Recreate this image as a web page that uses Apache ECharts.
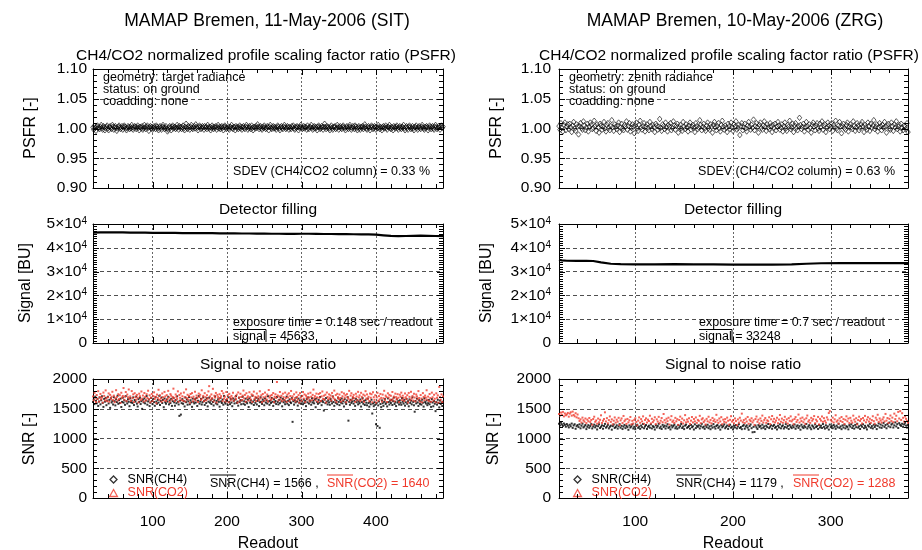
<!DOCTYPE html>
<html><head><meta charset="utf-8">
<script src="https://cdn.jsdelivr.net/npm/echarts@6/dist/echarts.min.js"></script>
<style>html,body{margin:0;padding:0;background:#fff}#c{width:922px;height:550px}</style>
</head><body><div id="c"></div>
<script>
// ---------------- DATA ----------------
const readoutStartL = 20;   // first readout, left column (11-May-2006, SIT)
const readoutStartR = 22;   // first readout, right column (10-May-2006, ZRG)
const readoutEndL = 490, readoutEndR = 379;

const psfrL = [
1.002,0.998,1.004,1.001,0.996,1.003,1.005,1.000,1.002,0.999,
1.003,1.006,1.001,0.998,1.004,1.002,0.997,1.001,1.003,1.005,
1.000,0.997,1.002,1.004,1.001,0.999,1.006,1.003,0.998,1.002,
1.004,1.001,0.996,1.000,1.003,1.005,1.002,0.999,1.001,1.004,
0.998,1.002,1.005,1.003,1.000,0.997,1.001,1.004,1.002,0.999,
1.003,1.000,1.006,1.002,0.998,1.001,1.004,1.003,0.999,1.002,
1.005,1.001,0.997,1.003,1.002,1.000,1.004,0.998,1.001,1.006,
1.002,0.999,1.003,1.005,1.001,0.996,1.002,1.004,1.000,1.003,
0.998,1.001,1.004,1.002,0.999,1.005,1.003,1.000,0.997,1.002,
1.004,1.001,0.998,1.003,1.006,1.002,0.999,1.001,1.004,1.000,
0.995,0.998,1.002,1.004,1.001,0.997,1.003,1.005,1.000,1.002,
1.003,0.999,1.001,1.006,1.002,0.998,1.004,1.001,1.003,0.999,
1.002,1.005,1.000,0.997,1.003,1.008,1.001,0.999,1.004,1.002,
0.998,1.003,1.006,1.001,0.999,1.002,1.004,1.000,1.007,1.003,
1.001,0.997,1.002,1.005,1.003,0.999,1.001,1.004,1.002,0.998,
1.004,1.001,1.003,0.999,1.006,1.002,1.000,1.003,0.997,1.001,
1.005,1.002,0.999,1.003,1.001,1.004,0.998,1.002,1.006,1.000,
1.003,0.999,1.002,1.004,1.001,0.997,1.003,1.005,1.002,0.999,
1.001,1.004,1.000,0.998,1.003,1.002,1.006,1.001,0.999,1.003,
1.002,0.997,1.004,1.001,1.003,0.999,1.002,1.005,1.000,1.003,
0.998,1.002,1.004,1.001,0.999,1.003,1.006,1.002,0.998,1.001,
1.004,1.002,0.999,1.005,1.001,0.997,1.003,1.002,1.000,1.004,
1.001,1.007,1.003,0.999,1.002,1.004,1.000,0.998,1.003,1.001,
1.005,1.002,0.999,1.001,1.004,1.002,0.997,1.003,1.006,1.001,
0.999,1.002,1.004,1.000,1.003,1.001,0.998,1.002,1.005,1.003,
1.000,0.997,1.002,1.004,1.001,0.999,1.003,1.006,1.002,0.999,
1.001,1.004,1.002,0.998,1.003,1.001,0.999,1.004,1.002,1.005,
1.000,0.998,1.003,1.001,1.004,1.002,0.997,1.001,1.003,1.006,
1.002,0.999,1.001,1.004,1.000,1.003,1.002,0.998,1.005,1.001,
0.999,1.003,1.002,1.006,1.001,0.998,1.002,1.004,1.000,1.003,
1.001,0.997,1.003,1.005,1.002,0.999,1.001,1.004,1.002,0.998,
1.003,1.008,1.002,0.999,1.004,1.001,1.003,1.000,0.997,1.002,
1.005,1.001,0.998,1.003,1.002,1.004,0.999,1.001,1.006,1.002,
0.998,1.002,1.004,1.001,0.999,1.003,1.005,1.002,1.000,0.997,
1.002,1.004,1.001,0.999,1.003,1.006,1.002,0.998,1.001,1.004,
1.002,0.999,1.005,1.003,1.000,0.997,1.002,1.004,1.001,0.998,
1.003,1.001,1.004,0.999,1.002,1.007,1.003,1.000,0.998,1.002,
1.004,1.001,0.997,1.002,1.005,1.003,0.999,1.001,1.004,1.002,
0.998,1.003,1.001,1.006,1.002,0.999,1.003,1.001,0.997,1.002,
1.004,1.000,1.002,1.005,1.001,0.998,1.003,1.002,1.006,1.001,
0.999,1.003,1.001,0.997,1.004,1.002,1.000,1.003,1.005,1.001,
0.998,1.002,1.004,1.001,0.999,1.003,1.002,1.006,1.000,0.997,
1.002,1.004,1.001,0.998,1.003,1.005,1.002,0.999,1.001,1.004,
1.000,0.997,1.003,1.002,1.005,1.001,0.998,1.002,1.004,1.001,
0.999,1.003,1.006,1.002,1.000,0.998,1.003,1.001,1.004,1.002,
0.997,1.001,1.005,1.003,0.999,1.002,1.004,1.000,0.998,1.003,
1.006,1.002,0.999,1.001,1.004,1.002,0.998,1.003,1.005,1.001,
1.003];

const psfrR = [
1.004,0.998,1.009,1.001,0.995,1.006,1.010,0.997,1.003,1.007,
0.999,1.008,1.002,0.994,1.005,1.011,1.000,0.996,1.007,1.003,
0.990,1.004,1.009,1.001,0.998,1.012,1.005,0.997,1.002,1.008,
0.995,1.003,1.010,1.006,0.999,1.001,1.013,1.004,0.996,1.007,
1.002,0.993,1.008,1.005,0.998,1.003,1.011,1.000,0.995,1.006,
1.009,1.001,0.997,1.004,1.014,1.002,0.996,1.007,1.003,0.999,
1.005,1.010,0.994,1.002,1.008,1.000,0.997,1.006,1.003,1.012,
0.998,1.004,1.009,0.995,1.001,1.007,1.003,0.992,1.005,1.010,
1.000,0.996,1.006,1.013,1.002,0.998,1.004,1.009,0.995,1.003,
1.007,1.001,0.997,1.011,1.004,0.999,1.006,1.002,0.994,1.008,
1.005,0.998,1.003,1.016,1.001,0.996,1.007,1.004,0.999,1.010,
1.002,0.995,1.006,1.003,1.009,0.997,1.001,1.012,1.005,0.998,
1.004,1.008,0.993,1.002,1.006,1.000,0.996,1.011,1.003,0.999,
1.007,1.002,0.995,1.005,1.010,0.998,1.003,1.006,1.001,0.994,
1.009,1.004,0.999,1.002,1.014,1.006,0.997,1.003,1.008,1.000,
0.996,1.005,1.010,1.001,0.998,1.007,1.003,0.993,1.006,1.011,
1.002,0.997,1.004,1.009,1.000,0.995,1.006,1.013,1.003,0.998,
1.005,1.001,0.994,1.008,1.004,0.999,1.010,1.002,0.996,1.007,
1.003,1.012,0.998,1.001,1.006,0.989,1.004,1.009,0.997,1.002,
1.008,1.000,0.995,1.005,1.011,1.003,0.998,1.006,1.001,1.015,
0.997,1.004,1.009,1.002,0.993,1.006,1.010,1.001,0.998,1.005,
1.012,1.003,0.996,1.007,1.002,0.999,1.009,1.004,0.994,1.006,
1.001,1.008,0.997,1.003,1.011,1.005,0.998,1.002,1.007,0.995,
1.004,1.010,1.000,0.996,1.006,1.003,1.013,0.999,1.002,1.008,
0.994,1.005,1.009,1.001,0.997,1.004,1.018,1.006,0.999,1.003,
1.008,0.995,1.002,1.011,1.004,0.998,1.007,1.001,0.993,1.006,
1.010,1.003,0.997,1.005,1.009,1.000,0.996,1.008,1.002,1.012,
0.998,1.004,1.007,0.994,1.001,1.010,1.005,0.999,1.003,1.009,
0.996,1.006,1.002,1.013,1.000,0.997,1.005,1.011,1.003,0.992,
1.004,1.008,1.001,0.998,1.006,1.010,0.995,1.003,1.007,1.002,
0.999,1.012,1.004,0.996,1.002,1.009,1.005,0.997,1.001,1.007,
1.011,1.003,0.994,1.006,1.002,0.998,1.010,1.004,0.996,1.008,
1.001,1.005,1.014,0.999,1.003,1.007,0.995,1.002,1.009,1.004,
0.997,1.006,1.001,1.011,1.003,0.993,1.005,1.008,1.000,0.998,
1.010,1.004,0.996,1.007,1.002,1.012,0.999,1.003,1.006,0.995,
1.008,1.001,0.997,1.005,1.003,0.999,1.009,0.994];

// Detector filling (signal, BU) sampled along readouts
const signalLx = [20,30,40,50,60,70,80,90,100,110,120,130,140,150,160,170,180,190,200,210,220,230,240,250,260,270,280,290,300,310,320,330,340,350,360,370,380,390,400,410,420,430,440,450,460,470,480,490];
const signalLy = [46400,46450,46450,46500,46450,46400,46350,46350,46300,46300,46250,46250,46200,46200,46150,46150,46150,46100,46100,46050,46000,46000,45950,45950,45900,45900,45850,45850,45900,45900,45850,45800,45800,45750,45750,45700,45650,45600,45500,45250,45000,44900,44950,45050,45100,45050,44950,44900];
const signalRx = [22,25,30,40,50,57,65,75,85,100,120,140,160,180,200,220,240,260,275,290,310,330,350,370,379];
const signalRy = [35000,34700,34550,34500,34500,34450,33900,33300,33100,33050,33050,33100,33050,33000,32950,32900,32950,33050,33300,33500,33550,33600,33600,33550,33550];

const snrCH4L = [
1612,1655,1578,1703,1634,1590,1668,1547,1621,1689,
1574,1642,1710,1598,1531,1665,1619,1683,1560,1637,
1702,1589,1648,1515,1676,1605,1633,1571,1694,1627,
1556,1660,1612,1719,1583,1644,1597,1670,1529,1615,
1686,1603,1641,1566,1712,1625,1588,1659,1617,1543,
1678,1609,1634,1596,1691,1562,1647,1620,1705,1585,
1538,1661,1614,1685,1579,1627,1498,1652,1606,1673,
1591,1638,1714,1568,1623,1657,1545,1601,1682,1630,
1577,1666,1612,1549,1695,1620,1584,1649,1603,1718,
1563,1631,1688,1597,1645,1526,1672,1610,1584,1656,
1619,1701,1573,1640,1595,1667,1548,1628,1684,1607,
1551,1645,1593,1709,1618,1572,1380,1636,1402,1594,
1662,1583,1627,1539,1690,1611,1655,1568,1624,1697,
1575,1643,1608,1532,1671,1616,1589,1658,1604,1681,
1547,1634,1712,1586,1622,1663,1571,1609,1693,1628,
1564,1651,1596,1677,1540,1619,1686,1602,1637,1579,
1668,1613,1555,1642,1707,1590,1631,1574,1659,1616,
1535,1679,1623,1597,1654,1568,1715,1608,1586,1648,
1629,1561,1692,1615,1577,1662,1604,1543,1673,1633,
1589,1657,1712,1596,1620,1552,1684,1611,1645,1575,
1638,1701,1583,1626,1567,1669,1614,1592,1652,1530,
1676,1605,1641,1588,1718,1621,1563,1649,1600,1685,
1572,1632,1665,1545,1610,1693,1618,1581,1656,1627,
1559,1674,1603,1641,1587,1709,1624,1566,1635,1598,
1682,1617,1548,1660,1606,1631,1579,1697,1614,1572,
1650,1594,1688,1625,1541,1667,1609,1643,1576,1620,
1703,1586,1633,1561,1658,1612,1595,1679,1280,1627,
1569,1644,1606,1687,1622,1553,1670,1601,1639,1584,
1715,1618,1575,1653,1596,1630,1544,1662,1608,1690,
1587,1641,1620,1567,1678,1604,1635,1591,1659,1526,
1672,1613,1582,1647,1602,1698,1625,1560,1637,1611,
1470,1655,1594,1681,1619,1573,1642,1607,1566,1664,
1628,1589,1707,1613,1549,1652,1599,1636,1577,1685,
1615,1561,1646,1603,1673,1590,1629,1538,1660,1608,
1579,1640,1694,1300,1616,1566,1651,1598,1624,1683,
1585,1632,1548,1667,1609,1643,1573,1620,1592,1656,
1537,1612,1680,1584,1629,1563,1645,1601,1558,1671,
1596,1534,1618,1575,1652,1420,1587,1543,1609,1566,
1240,1598,1210,1556,1621,1180,1579,1527,1640,1593,
1548,1617,1662,1581,1605,1539,1674,1612,1570,1635,
1597,1651,1563,1626,1688,1580,1614,1545,1659,1603,
1628,1571,1642,1600,1566,1681,1619,1587,1646,1552,
1609,1665,1583,1624,1541,1657,1598,1636,1574,1692,
1615,1558,1450,1631,1590,1670,1606,1547,1644,1581,
1623,1569,1653,1602,1536,1677,1612,1588,1639,1560,
1594,1648,1575,1616,1531,1663,1605,1542,1629,1584,
1460,1612,1569,1651,1597,1523,1638,1580,1604,1546,
1618];

const snrCO2L = [
1705,1642,1768,1683,1612,1731,1664,1795,1620,1698,
1749,1657,1688,1603,1772,1716,1640,1809,1675,1627,
1693,1758,1619,1734,1668,1702,1785,1645,1721,1610,
1676,1812,1698,1639,1745,1662,1727,1598,1769,1686,
1715,1848,1650,1703,1781,1627,1739,1692,1824,1661,
1708,1633,1797,1679,1742,1612,1761,1696,1652,1733,
1684,1605,1753,1711,1646,1790,1670,1722,1621,1765,
1699,1638,1744,1681,1803,1657,1726,1609,1687,1750,
1628,1713,1776,1665,1700,1594,1738,1682,1819,1649,
1725,1671,1617,1757,1694,1642,1783,1707,1630,1729,
1662,1801,1689,1614,1746,1720,1653,1697,1838,1676,
1631,1740,1702,1665,1793,1618,1731,1684,1757,1645,
1710,1636,1772,1692,1621,1826,1679,1735,1656,1714,
1601,1748,1690,1763,1625,1704,1667,1786,1641,1722,
1685,1612,1755,1698,1735,1649,1810,1673,1716,1627,
1762,1694,1640,1728,1669,1792,1880,1707,1651,1741,
1677,1835,1623,1719,1688,1766,1605,1733,1696,1651,
1744,1681,1712,1798,1629,1759,1670,1702,1622,1781,
1666,1727,1608,1750,1691,1643,1716,1676,1769,1634,
2050,1703,1661,1737,1602,1774,1689,1625,1752,1697,
1645,1720,1806,1672,1733,1618,1761,1684,1709,1637,
1778,1695,1654,1741,1614,1723,1788,1667,1700,1628,
1756,1683,1711,1642,1794,1674,1726,1609,1748,1693,
1636,1772,1704,1658,1739,1622,1815,1687,1717,1650,
1732,1671,1764,1611,1700,1744,1681,1950,1724,1639,
1706,1782,1659,1718,1627,1753,1694,1645,1771,1680,
1615,1737,1690,1760,1632,1714,1799,1663,1708,1648,
1743,1679,1621,1775,1697,1652,1729,1603,1762,1686,
1634,1716,1780,1670,1741,1611,1723,1695,1657,1754,
1688,1626,1769,1702,1645,1733,1822,1678,1712,1640,
1755,1691,1617,1747,1683,1764,1629,1708,1790,1666,
1719,1652,1736,1604,1773,1697,1660,1742,1685,1724,
1638,1766,1703,1675,1805,1649,1730,1612,1751,1694,
1663,1739,1681,1620,1778,1710,1645,1757,1687,1727,
1609,1746,1692,1668,1801,1636,1721,1761,1654,1698,
1733,1677,1615,1752,1706,1643,1784,1690,1725,1631,
1768,1699,1656,1738,1617,1720,1795,1671,1741,1662,
1701,1628,1756,1685,1744,1610,1779,1694,1650,1727,
1604,1691,1768,1635,1712,1658,1749,1683,1620,1738,
1676,1802,1645,1721,1697,1614,1760,1688,1733,1653,
1718,1639,1782,1670,1705,1626,1754,1696,1662,1745,
1685,1612,1736,1702,1771,1648,1719,1680,1629,1757,
1694,1661,1728,1605,1766,1700,1643,1785,1674,1713,
1637,1752,1689,1622,1740,1707,1658,1797,1681,1620,
1730,1671,1608,1763,1699,1644,1722,1686,1811,1652,
1704,1628,1748,1679,1617,1771,1693,1640,1735,1668,
1610,1759,1684,1725,1603,1867,1697,1652,1741,1615,
1706];

const snrCH4R = [
1248,1221,1265,1236,1210,1252,1229,1198,1243,1217,
1186,1232,1205,1251,1178,1219,1240,1163,1207,1226,
1192,1238,1171,1214,1249,1185,1203,1227,1158,1196,
1224,1180,1209,1242,1169,1201,1233,1187,1215,1152,
1206,1239,1176,1198,1221,1164,1210,1245,1183,1202,
1230,1170,1197,1216,1148,1208,1236,1177,1193,1222,
1166,1205,1241,1181,1213,1159,1199,1228,1174,1211,
1190,1146,1220,1184,1203,1235,1168,1196,1157,1212,
1231,1179,1200,1162,1218,1189,1243,1172,1204,1226,
1161,1197,1215,1182,1237,1169,1208,1191,1150,1223,
1185,1211,1247,1174,1199,1160,1229,1194,1216,1167,
1206,1240,1178,1195,1153,1220,1187,1212,1233,1171,
1198,1164,1225,1183,1209,1244,1176,1201,1158,1217,
1234,1180,1192,1211,1165,1228,1189,1205,1151,1238,
1175,1213,1196,1222,1168,1207,1246,1184,1199,1162,
1219,1190,1231,1173,1204,1156,1215,1182,1242,1197,
1166,1210,1227,1179,1202,1149,1224,1188,1208,1237,
1172,1195,1218,1161,1206,1232,1181,1198,1153,1214,
1185,1226,1169,1203,1240,1176,1193,1157,1211,1230,
1164,1200,1221,1183,1147,1209,1236,1173,1105,1196,
1110,1218,1187,1160,1225,1194,1212,1170,1233,1181,
1204,1158,1216,1191,1244,1175,1199,1223,1163,1208,
1229,1180,1197,1152,1214,1186,1238,1171,1205,1220,
1167,1193,1241,1182,1210,1159,1226,1195,1174,1217,
1189,1235,1163,1202,1221,1178,1207,1148,1231,1196,
1175,1213,1190,1245,1168,1201,1224,1184,1156,1219,
1200,1172,1237,1192,1209,1161,1228,1186,1215,1177,
1243,1196,1166,1222,1181,1204,1150,1234,1191,1210,
1173,1227,1198,1162,1216,1188,1247,1179,1203,1157,
1220,1185,1232,1170,1207,1194,1154,1225,1199,1240,
1176,1211,1165,1229,1190,1248,1183,1205,1160,1222,
1197,1238,1174,1213,1186,1152,1219,1201,1246,1180,
1208,1169,1231,1193,1224,1158,1212,1253,1187,1235,
1178,1216,1262,1195,1227,1171,1244,1206,1268,1190,
1233,1252,1184,1221,1270,1203,1241,1176,1258,1229,
1211,1247,1195,1236,1264,1218,1183,1226];

const snrCO2R = [
1412,1385,1436,1398,1447,1372,1421,1390,1405,1430,
1367,1418,1441,1384,1452,1396,1373,1425,1356,1403,
1340,1295,1322,1268,1351,1307,1284,1336,1259,1318,
1290,1345,1276,1311,1232,1328,1366,1281,1303,1249,
1335,1272,1314,1390,1261,1298,1327,1440,1287,1342,
1255,1309,1371,1279,1322,1238,1300,1354,1267,1316,
1283,1348,1226,1304,1337,1260,1379,1292,1318,1245,
1329,1271,1306,1362,1236,1297,1252,1313,1340,1278,
1221,1301,1355,1264,1326,1288,1372,1247,1310,1339,
1269,1317,1294,1383,1253,1331,1276,1305,1357,1242,
1322,1285,1364,1258,1299,1344,1273,1412,1308,1266,
1333,1291,1350,1234,1315,1376,1280,1302,1261,1347,
1289,1325,1229,1311,1368,1277,1335,1252,1306,1393,
1272,1319,1283,1340,1246,1300,1361,1270,1328,1288,
1354,1263,1313,1297,1381,1257,1321,1341,1276,1303,
1235,1330,1289,1366,1271,1312,1254,1346,1295,1320,
1278,1398,1305,1262,1336,1287,1359,1241,1317,1280,
1326,1268,1351,1299,1232,1314,1375,1284,1308,1256,
1337,1293,1224,1321,1267,1349,1301,1418,1274,1310,
1259,1332,1286,1362,1248,1315,1292,1340,1271,1305,
1228,1327,1369,1281,1316,1254,1338,1296,1385,1269,
1312,1344,1263,1306,1290,1357,1243,1323,1378,1285,
1331,1270,1302,1349,1257,1318,1395,1282,1334,1264,
1309,1365,1276,1322,1251,1343,1297,1372,1288,1315,
1240,1327,1360,1279,1311,1402,1268,1336,1293,1352,
1273,1319,1245,1340,1386,1284,1308,1262,1347,1299,
1325,1377,1256,1316,1289,1363,1236,1330,1301,1370,
1281,1342,1297,1265,1355,1318,1428,1460,1312,1287,
1351,1268,1323,1391,1284,1305,1250,1338,1294,1361,
1277,1326,1243,1314,1373,1290,1335,1259,1347,1300,
1266,1384,1319,1282,1341,1237,1310,1367,1295,1328,
1253,1345,1304,1380,1272,1317,1358,1286,1332,1263,
1309,1374,1292,1248,1350,1315,1399,1279,1337,1302,
1268,1322,1356,1287,1413,1301,1344,1261,1330,1386,
1295,1351,1274,1418,1326,1383,1290,1447,1336,1460,
1312,1425,1348,1284,1372,1331,1296,1266];

// axis tick values
const psfrTicks = [0.90, 0.95, 1.00, 1.05, 1.10];
const signalTicks = [0, 10000, 20000, 30000, 40000, 50000];
const snrTicks = [0, 500, 1000, 1500, 2000];
const readoutMajor = 100, readoutMinorSplit = 5;

// annotation values
const sdev = ['0.33', '0.63'];
const exposure = ['0.148', '0.7'];
const meanSignal = [45633, 33248];
const meanSnrCH4 = [1566, 1179];
const meanSnrCO2 = [1640, 1288];
const colTitles = ['MAMAP Bremen, 11-May-2006 (SIT)', 'MAMAP Bremen, 10-May-2006 (ZRG)'];
const geometry = ['target radiance', 'zenith radiance'];

// ---------------- LAYOUT / STYLE ----------------
const FONT = '"Liberation Sans", Arial, Helvetica, sans-serif';
const RED = '#f03a2c';
const colLeft = [93, 559], colWidth = [350, 349];
const rowTop = [69, 224, 379], rowH = 119;
const xRange = [[readoutStartL, readoutEndL], [readoutStartR, readoutEndR]];
const yCfg = [
  {ticks: psfrTicks, minor: 5, fmt: v => v.toFixed(2)},
  {ticks: signalTicks, minor: 10, fmt: v => v === 0 ? '0' : '{m|' + Math.round(v / 10000) + '×10}{s|4}'},
  {ticks: snrTicks, minor: 5, fmt: v => String(v)}
];

const grids = [], xAxes = [], yAxes = [], series = [];
function pIdx(c, r) { return c * 3 + r; }
function lineCfg() { return {show: true, onZero: false, lineStyle: {color: '#000', width: 1}}; }
for (let c = 0; c < 2; c++) for (let r = 0; r < 3; r++) {
  const p = pIdx(c, r);
  grids.push({left: colLeft[c], top: rowTop[r], width: colWidth[c], height: rowH});
  for (const pos of ['bottom', 'top']) {
    const main = pos === 'bottom';
    xAxes.push({type: 'value', gridIndex: p, position: pos, min: xRange[c][0], max: xRange[c][1], splitNumber: 5,
      axisLine: lineCfg(), axisTick: {show: false}, minorTick: {show: false},
      axisLabel: {show: main && r === 2, formatter: v => (v % readoutMajor === 0 ? String(v) : ''),
        fontSize: 15.5, fontFamily: FONT, color: '#000', margin: 16},
      splitLine: {show: main, lineStyle: {color: '#555', type: [2, 2], width: 0.9}}});
  }
  const t = yCfg[r].ticks;
  for (const pos of ['left', 'right']) {
    const main = pos === 'left';
    yAxes.push({type: 'value', gridIndex: p, position: pos, min: t[0], max: t[t.length - 1], interval: t[1] - t[0],
      axisLine: lineCfg(), axisTick: {show: false}, minorTick: {show: false},
      axisLabel: {show: main, formatter: yCfg[r].fmt, fontSize: 15.5, fontFamily: FONT, color: '#000', margin: c === 0 ? 6 : 8,
        rich: {m: {fontSize: 15.5, fontFamily: FONT, color: '#000'}, s: {fontSize: 10, fontFamily: FONT, color: '#000', verticalAlign: 'top', padding: [0, 0, 6, 0]}}},
      splitLine: {show: main, lineStyle: {color: '#222', type: [4, 3], width: 0.8}}});
  }
}

const xAx = (c, r) => pIdx(c, r) * 2, yAx = (c, r) => pIdx(c, r) * 2;
const toPts = (arr, start) => arr.map((v, i) => [start + i, v]);
const psfr = [psfrL, psfrR], starts = [readoutStartL, readoutStartR];
const sigX = [signalLx, signalRx], sigY = [signalLy, signalRy];
const ch4 = [snrCH4L, snrCH4R], co2 = [snrCO2L, snrCO2R];
for (let c = 0; c < 2; c++) {
  series.push({name: 'PSFR', type: 'scatter', xAxisIndex: xAx(c, 0), yAxisIndex: yAx(c, 0), symbol: 'diamond', symbolSize: [4.5, 5.5],
    itemStyle: {color: 'rgba(0,0,0,0)', borderColor: '#000', borderWidth: 0.8}, data: toPts(psfr[c], starts[c]), silent: true});
  series.push({name: 'Signal', type: 'line', xAxisIndex: xAx(c, 1), yAxisIndex: yAx(c, 1), showSymbol: false,
    lineStyle: {color: '#000', width: 2.2}, data: sigX[c].map((x, i) => [x, sigY[c][i]]), silent: true});
  series.push({name: 'SNR(CH4)', type: 'scatter', xAxisIndex: xAx(c, 2), yAxisIndex: yAx(c, 2), symbol: 'rect', symbolSize: 2,
    itemStyle: {color: '#000'}, data: toPts(ch4[c], starts[c]), silent: true});
  series.push({name: 'SNR(CO2)', type: 'scatter', xAxisIndex: xAx(c, 2), yAxisIndex: yAx(c, 2), symbol: 'rect', symbolSize: 2,
    itemStyle: {color: RED}, data: toPts(co2[c], starts[c]), silent: true});
}

const legends = [0, 1].map(c => ({
  left: c === 0 ? 104 : 568, top: 468, orient: 'vertical', itemWidth: 18, itemHeight: 7, itemGap: 0.5,
  selectedMode: false, textStyle: {fontSize: 12.5, fontFamily: FONT, lineHeight: 13},
  data: [
    {name: 'SNR(CH4)', icon: 'path://M5,0L10,5L5,10L0,5Z', itemStyle: {color: 'rgba(0,0,0,0)', borderColor: '#000', borderWidth: 1.3}, textStyle: {color: '#000'}},
    {name: 'SNR(CO2)', icon: 'path://M5,0L10,9L0,9Z', itemStyle: {color: 'rgba(0,0,0,0)', borderColor: RED, borderWidth: 1.3}, textStyle: {color: RED}}
  ]
}));

function T(text, x, y, size, opt) {
  opt = opt || {};
  return {type: 'text', x: x, y: y, rotation: opt.rot || 0, silent: true, z: 100,
    style: {text: text, fill: opt.color || '#000', fontSize: size, fontFamily: FONT,
      align: opt.align || 'left', verticalAlign: 'middle'}};
}
function L(x1, y1, x2, y2, color) {
  return {type: 'line', silent: true, z: 100, shape: {x1: x1, y1: y1, x2: x2, y2: y2}, style: {stroke: color || '#000', lineWidth: 1}};
}
const graphics = [];
const cx = [268, 733];
const yNameX = [[31, 26, 30], [497, 487, 494]];
for (let c = 0; c < 2; c++) {
  const L0 = colLeft[c], R0 = colLeft[c] + colWidth[c];
  graphics.push(T(colTitles[c], c === 0 ? 267 : 735, 21, 17.5, {align: 'center'}));
  graphics.push(T('CH4/CO2 normalized profile scaling factor ratio (PSFR)', c === 0 ? 266 : 729, 56, 15.5, {align: 'center'}));
  graphics.push(T('Detector filling', cx[c], 210, 15.5, {align: 'center'}));
  graphics.push(T('Signal to noise ratio', cx[c], 365, 15.5, {align: 'center'}));
  graphics.push(T('Readout', cx[c], 544, 16, {align: 'center'}));
  graphics.push(T('PSFR [-]', yNameX[c][0], 128, 16, {align: 'center', rot: Math.PI / 2}));
  graphics.push(T('Signal [BU]', yNameX[c][1], 283, 16, {align: 'center', rot: Math.PI / 2}));
  graphics.push(T('SNR [-]', yNameX[c][2], 439, 16, {align: 'center', rot: Math.PI / 2}));
  graphics.push(T('geometry: ' + geometry[c], L0 + 10, 78, 12.5));
  graphics.push(T('status: on ground', L0 + 10, 90, 12.5));
  graphics.push(T('coadding: none', L0 + 10, 102, 12.5));
  graphics.push(T('SDEV (CH4/CO2 column) = ' + sdev[c] + ' %', R0 - 13, 172, 12.5, {align: 'right'}));
  const ex = L0 + 140;
  graphics.push(T('exposure time = ' + exposure[c] + ' sec / readout', ex, 323, 12.5));
  graphics.push(T('signal = ' + meanSignal[c], ex, 336.5, 12.5));
  graphics.push(L(ex, 329.5, ex + 33, 329.5));
  graphics.push(L(ex + 33, 329.5, ex + 33, 342));
  const sx = L0 + 117;
  graphics.push(T('SNR(CH4) = ' + meanSnrCH4[c] + ' ,', sx, 483.5, 12.5));
  graphics.push(L(sx, 475, sx + 26, 475));
  graphics.push(T('SNR(CO2) = ' + meanSnrCO2[c], sx + 117, 483.5, 12.5, {color: RED}));
  graphics.push(L(sx + 117, 475, sx + 143, 475, RED));
}

// inward major/minor tick marks on all four box sides (axis decoration, from each panel's axis range and box)
for (let c = 0; c < 2; c++) for (let r = 0; r < 3; r++) {
  const left = colLeft[c], right = colLeft[c] + colWidth[c], top = rowTop[r], bottom = rowTop[r] + rowH;
  const xLo = xRange[c][0], xHi = xRange[c][1];
  const t = yCfg[r].ticks, yLo = t[0], yHi = t[t.length - 1];
  const xStep = readoutMajor / readoutMinorSplit;
  for (let v = Math.ceil(xLo / xStep) * xStep; v < xHi; v += xStep) {
    const len = v % readoutMajor === 0 ? 6 : 4;
    const px = Math.round(left + (v - xLo) / (xHi - xLo) * colWidth[c]) + 0.5;
    graphics.push(L(px, bottom, px, bottom - len));
    graphics.push(L(px, top, px, top + len));
  }
  const n = yCfg[r].minor, count = (t.length - 1) * n;
  for (let k = 1; k < count; k++) {
    const len = k % n === 0 ? 6 : 4;
    const py = Math.round(bottom - k / count * rowH) + 0.5;
    graphics.push(L(left, py, left + len, py));
    graphics.push(L(right, py, right - len, py));
  }
}

const chart = echarts.init(document.getElementById('c'), null, {renderer: 'canvas'});
chart.setOption({
  animation: false, backgroundColor: '#fff',
  grid: grids, xAxis: xAxes, yAxis: yAxes, legend: legends, series: series, graphic: graphics
});
</script></body></html>
